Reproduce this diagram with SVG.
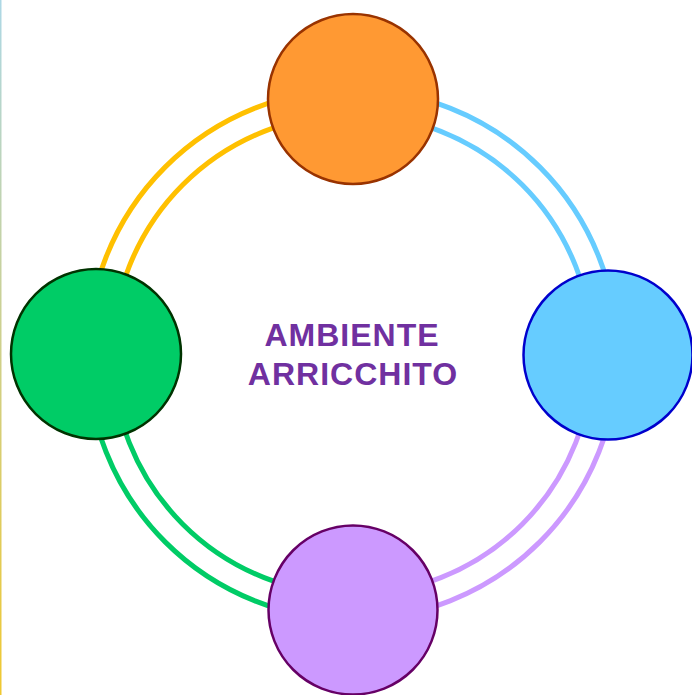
<svg xmlns="http://www.w3.org/2000/svg" width="692" height="695" viewBox="0 0 692 695">
<defs>
<linearGradient id="edge" x1="0" y1="0" x2="0" y2="1">
<stop offset="0" stop-color="#add8e6"/>
<stop offset="1" stop-color="#f0c830"/>
</linearGradient>
</defs>
<style>
.arc{fill:none;stroke-width:5}
.node{stroke-width:2.5}
.label{font-family:"Liberation Sans",Arial,sans-serif;font-weight:bold;font-size:32px;fill:#7030a0;letter-spacing:1px;text-anchor:middle}
</style>
<rect x="0" y="0" width="692" height="695" fill="#ffffff"/>
<rect x="0" y="0" width="1.5" height="695" fill="url(#edge)"/>
<g id="connectors">
<path class="arc" stroke="#ffc000" d="M87.5,354.5 A265,265 0 0 1 352.5,89.5"/>
<path class="arc" stroke="#ffc000" d="M112.5,354.5 A240,240 0 0 1 352.5,114.5"/>
<path class="arc" stroke="#66ccff" d="M352.5,89.5 A265,265 0 0 1 617.5,354.5"/>
<path class="arc" stroke="#66ccff" d="M352.5,114.5 A240,240 0 0 1 592.5,354.5"/>
<path class="arc" stroke="#cc99ff" d="M617.5,354.5 A265,265 0 0 1 352.5,619.5"/>
<path class="arc" stroke="#cc99ff" d="M592.5,354.5 A240,240 0 0 1 352.5,594.5"/>
<path class="arc" stroke="#00cc66" d="M352.5,619.5 A265,265 0 0 1 87.5,354.5"/>
<path class="arc" stroke="#00cc66" d="M352.5,594.5 A240,240 0 0 1 112.5,354.5"/>
</g>
<g id="node-top"><circle class="node" cx="353" cy="99" r="85" fill="#ff9933" stroke="#993300"/></g>
<g id="node-right"><circle class="node" cx="608" cy="355" r="84.5" fill="#66ccff" stroke="#0000cc"/></g>
<g id="node-bottom"><circle class="node" cx="353" cy="610" r="84.5" fill="#cc99ff" stroke="#660066"/></g>
<g id="node-left"><circle class="node" cx="96" cy="354" r="85" fill="#00cc66" stroke="#003300"/></g>
<g id="center-label">
<text class="label" x="352" y="346">AMBIENTE</text>
<text class="label" x="353" y="385">ARRICCHITO</text>
</g>
</svg>
